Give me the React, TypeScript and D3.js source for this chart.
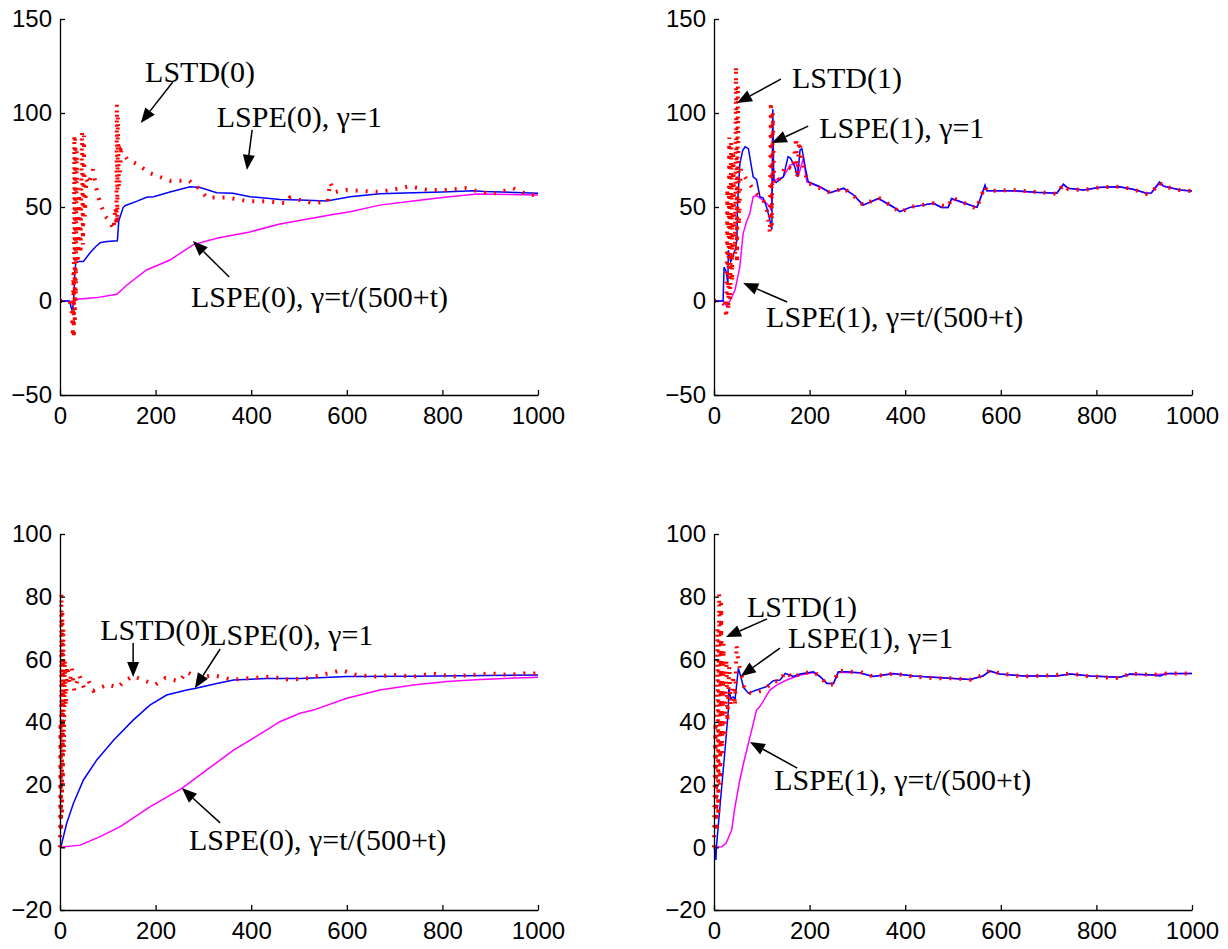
import { useEffect, useRef } from "react";
import * as d3 from "d3";

type Pt = [number, number];

const xTicks = [0, 200, 400, 600, 800, 1000];
const topYTicks = [-50, 0, 50, 100, 150];
const bottomYTicks = [-20, 0, 20, 40, 60, 80, 100];

// top-left: LSTD(0) / LSPE(0)
const lstd0Top: Pt[] = [[0,0],[10,0],[20,0],[24,-3],[27,-19],[28,15],[29,-20],[30,88],[31,-12],[32,86],[33,0],[35,80],[37,20],[40,60],[43,25],[46,90],[48,30],[50,88],[52,45],[55,65],[60,62],[69,70],[76,60],[84,52],[95,45],[105,42],[112,38],[116,50],[118,40],[119,105],[120,42],[121,98],[123,60],[128,80],[142,75],[160,73],[188,68],[230,64],[270,64],[290,60],[307,55],[349,55],[397,53],[432,53],[474,52],[481,55],[530,52],[560,53],[565,63],[575,58],[600,59],[669,58],[732,61],[770,59],[809,59],[849,60],[880,58],[906,57],[948,60],[975,57],[1000,56]];
const lspe0Top: Pt[] = [[0,0],[12,0],[20,0],[25,-5],[28,-2],[31,15],[33,20.4],[40,21],[49,21],[63,25.7],[75,29],[84,31],[98,31.6],[120,32],[123,42.6],[132,49.7],[136,50.7],[160,53],[181,55.2],[196,55.5],[230,58],[272,60.8],[293,60.4],[328,57.6],[362,57.3],[397,55.5],[460,54],[502,53.7],[558,53.2],[607,55.5],[669,57],[739,57.6],[800,58],[864,58.7],[887,58.3],[1000,57.3]];
const lspe0DecayTop: Pt[] = [[0,0],[15,0],[25,-1],[35,0.9],[77,1.8],[119,3.6],[140,8.5],[181,16.5],[230,21.8],[279,30],[330,33.5],[397,36.7],[460,41],[565,45.7],[607,47.5],[669,51],[739,53.2],[800,55],[872,56.9],[1000,56.4]];

// top-right: LSTD(1) / LSPE(1)
const lstd1Top: Pt[] = [[0,0],[15,0],[22,-2],[26,-9],[28,60],[30,-5],[32,87],[34,0],[36,85],[38,10],[40,80],[44,25],[46,125],[48,20],[50,115],[52,40],[56,70],[62,67],[75,62],[90,57],[100,55],[110,50],[117,36],[119,106],[121,40],[123,100],[126,62],[140,66],[150,72],[165,70],[172,87],[174,65],[178,85],[185,75],[195,63],[222,60],[243,57.6],[271,60],[292,56],[312,51],[344,55],[375,50],[389,47],[410,50],[459,52],[490,50],[497,55],[525,52],[550,49],[556,54],[567,61],[571,58.5],[626,59],[675,58],[717,57],[731,62],[741,59.5],[773,59],[808,60.5],[849,60.8],[877,59.4],[905,57],[915,57.5],[932,63],[940,61],[975,59],[1000,58.5]];
const lspe1Top: Pt[] = [[0,0],[19,0],[21,18],[25,16],[29,9.6],[30,27],[35,21],[44,27],[48,32.4],[49,50],[54,73],[60,80],[65,82],[72,81],[82,66],[89,64.5],[96,55.5],[103,54.7],[110,50],[115,45],[121,38],[123,102],[125,64],[130,63],[145,66],[155,76.8],[160,76],[169,71.4],[175,66],[180,80.3],[184,81],[192,69.7],[197,63.5],[222,60.8],[243,57.6],[271,60],[292,56.4],[312,51],[344,54.6],[375,50],[389,47.5],[410,49.8],[459,52],[476,49.8],[490,49.8],[497,54.6],[525,52],[550,49.8],[556,53.7],[567,61.7],[571,58.7],[626,58.7],[675,57.8],[717,57.3],[731,62.2],[741,60],[773,59],[808,60.5],[849,60.8],[877,59.4],[905,57.3],[915,57.5],[932,63.3],[940,61.2],[975,59],[1000,58.5]];
const lspe1DecayTop: Pt[] = [[0,0],[20,0],[27,-3],[35,1],[44,5.8],[54,18.2],[61,36],[68,42],[75,46.6],[82,55.5],[89,56],[100,54],[110,52],[117,50],[120,48],[123,75],[126,64],[145,66],[159,72.3],[173,73.2],[177,67],[187,75.9],[194,63.5],[222,60.5],[243,57.6],[271,59.8],[292,56.4],[312,51],[344,54.4],[375,50],[389,47.5],[410,49.8],[459,52],[476,49.8],[490,49.8],[497,54.3],[525,52],[550,49.8],[556,53.5],[567,61],[571,58.6],[626,58.5],[675,57.7],[717,57.3],[731,61.8],[741,59.9],[773,59],[808,60.4],[849,60.6],[877,59.3],[905,57.3],[915,57.4],[932,62.8],[940,61],[975,59],[1000,58.5]];

// bottom-left: LSTD(0) / LSPE(0)
const lstd0Bottom: Pt[] = [[0,0],[1,40],[2,5],[3,81],[4,10],[5,75],[6,20],[7,70],[8,30],[10,60],[12,45],[15,58],[20,52],[25,57],[30,50],[40,55],[50,51],[60,53],[70,50],[85,51],[100,52],[120,51],[135,53],[153,54.7],[180,53],[200,52],[220,54],[250,53],[265,56],[290,54],[320,55],[360,53.5],[400,54],[440,54.5],[480,53.5],[520,54],[560,55.5],[590,56.5],[620,55],[660,54.5],[700,55],[740,54.5],[780,55.5],[820,54.5],[860,55],[900,55.5],[940,55],[970,55.5],[1000,55.5]];
const lspe0Bottom: Pt[] = [[0,0],[2,0.2],[14,7.7],[28,14],[49,21.5],[77,27.9],[112,34.2],[153,40.6],[188,45.4],[223,48.6],[265,50.2],[282,50.7],[328,52.3],[363,53.4],[432,53.9],[502,53.9],[565,54.3],[600,54.5],[739,54.6],[1000,55]];
const lspe0DecayBottom: Pt[] = [[0,0],[42,0.7],[84,3.4],[126,6.6],[188,12.9],[255,18.8],[307,24.7],[363,31],[432,37.4],[460,40.1],[502,42.8],[530,43.8],[600,47.6],[669,50.2],[739,51.8],[809,52.9],[879,53.6],[1000,54.3]];

// bottom-right: LSTD(1) / LSPE(1)
const lstd1Bottom: Pt[] = [[0,0],[3,40],[5,5],[7,70],[9,10],[11,81],[13,20],[15,78],[17,30],[20,65],[23,35],[26,60],[28,40],[32,58],[35,45],[40,55],[44,45],[47,64.6],[51,59],[56,56],[65,50],[80,49],[100,50],[110,51],[124,53],[138,53],[149,56],[166,54],[180,55.5],[208,56],[222,54.5],[236,52],[250,52],[260,56.5],[278,56],[305,56],[333,54.5],[375,55.5],[417,54.5],[459,54],[501,54],[536,53.5],[563,55],[577,56.5],[598,55.5],[647,54.5],[717,55],[745,55.5],[787,54.5],[849,54],[870,55.5],[919,55],[947,55.5],[1000,55.5]];
const lspe1Bottom: Pt[] = [[0,0],[2,-1],[4,-4],[5,0],[13,14],[23,31],[30,43.8],[31,50.7],[35,47.5],[40,48],[44,47.2],[51,57.1],[56,54.5],[62,51],[72,49.2],[89,50.2],[110,51.3],[124,53.2],[138,53.4],[149,55.5],[166,54.5],[180,55.3],[208,56],[222,54.5],[236,52.3],[250,52.3],[260,56],[278,56],[305,55.7],[333,54.5],[375,55.5],[417,54.7],[459,54.3],[501,53.9],[536,53.6],[563,54.7],[577,56.3],[598,55.3],[647,54.7],[717,54.7],[745,55.3],[787,54.7],[849,54.3],[870,55.3],[919,55],[933,54.7],[947,55.5],[1000,55.5]];
const lspe1DecayBottom: Pt[] = [[0,0],[16,0.2],[25,1.2],[37,5.5],[44,13],[54,21.5],[62,27],[72,33.2],[89,43.8],[96,44.9],[117,50.2],[131,51.8],[152,53.4],[180,55],[208,55.8],[222,54.5],[236,52.4],[250,52.3],[260,55.8],[278,55.9],[305,55.6],[333,54.5],[375,55.4],[417,54.7],[459,54.3],[501,53.9],[536,53.6],[563,54.7],[577,56.2],[598,55.3],[647,54.7],[717,54.7],[745,55.3],[787,54.7],[849,54.3],[870,55.2],[919,55],[947,55.4],[1000,55.5]];

// annotations: label, text anchor (t, v), arrow tail (t, v), arrow tip (t, v)
type Note = { label: string; at: Pt; from: Pt; to: Pt };
const notesTopLeft: Note[] = [
  { label: "LSTD(0)", at: [178, 116.5], from: [236, 116.5], to: [169, 94.7] },
  { label: "LSPE(0), γ=1", at: [328, 92.6], from: [402, 91], to: [391, 69.7] },
  { label: "LSPE(0), γ=t/(500+t)", at: [274, -3.2], from: [354, 12.8], to: [278, 31.9] },
];
const notesTopRight: Note[] = [
  { label: "LSTD(1)", at: [163, 113.3], from: [140, 118], to: [48, 105.3] },
  { label: "LSPE(1), γ=1", at: [220, 86.7], from: [197, 93], to: [121, 84] },
  { label: "LSPE(1), γ=t/(500+t)", at: [109, -13.8], from: [153, -0.5], to: [61, 9.6] },
];
const notesBottomLeft: Note[] = [
  { label: "LSTD(0)", at: [84, 66.2], from: [153, 65.2], to: [153, 54.4] },
  { label: "LSPE(0), γ=1", at: [310, 64.6], from: [335, 63.3], to: [282, 50.8] },
  { label: "LSPE(0), γ=t/(500+t)", at: [270, -0.9], from: [335, 7.8], to: [255, 18.9] },
];
const notesBottomRight: Note[] = [
  { label: "LSTD(1)", at: [69, 73.5], from: [111, 72.9], to: [25, 67.1] },
  { label: "LSPE(1), γ=1", at: [155, 63.6], from: [138, 63.6], to: [56, 54.6] },
  { label: "LSPE(1), γ=t/(500+t)", at: [126, 18.3], from: [174, 25.3], to: [75, 33.6] },
];

const W = 478;
const H = 376;

const panels = [
  { left: 60, top: 19, yDomain: [-50, 150], yTicks: topYTicks, lstd: lstd0Top, lspe: lspe0Top, decay: lspe0DecayTop, notes: notesTopLeft },
  { left: 714, top: 19, yDomain: [-50, 150], yTicks: topYTicks, lstd: lstd1Top, lspe: lspe1Top, decay: lspe1DecayTop, notes: notesTopRight },
  { left: 60, top: 534, yDomain: [-20, 100], yTicks: bottomYTicks, lstd: lstd0Bottom, lspe: lspe0Bottom, decay: lspe0DecayBottom, notes: notesBottomLeft },
  { left: 714, top: 534, yDomain: [-20, 100], yTicks: bottomYTicks, lstd: lstd1Bottom, lspe: lspe1Bottom, decay: lspe1DecayBottom, notes: notesBottomRight },
];

function Arrow({ x1, y1, x2, y2 }) {
  const headLen = 15;
  const headW = 12;
  const dx = x2 - x1, dy = y2 - y1;
  const len = Math.hypot(dx, dy);
  const ux = dx / len, uy = dy / len;
  const bx = x2 - ux * headLen, by = y2 - uy * headLen;
  const px = -uy * headW / 2, py = ux * headW / 2;
  return <g>
    <line x1={x1} y1={y1} x2={bx} y2={by} stroke="black" strokeWidth={1.5}/>
    <polygon points={`${x2},${y2} ${bx + px},${by + py} ${bx - px},${by - py}`} fill="black"/>
  </g>
}

function Panel({ p }) {
  const axisRef = useRef<SVGGElement>(null);
  const x = d3.scaleLinear().domain([0, 1000]).range([0, W]);
  const y = d3.scaleLinear().domain(p.yDomain).range([H, 0]);
  const line = d3.line<Pt>().x(d => x(d[0])).y(d => y(d[1]));
  const fmt = d3.format("d");

  useEffect(() => {
    const g = d3.select(axisRef.current);
    g.selectAll("*").remove();
    const xa = g.append("g")
      .attr("transform", `translate(0,${H})`)
      .call(d3.axisBottom(x).tickValues(xTicks).tickFormat(fmt).tickSizeInner(-5).tickSizeOuter(0).tickPadding(12));
    const ya = g.append("g")
      .call(d3.axisLeft(y).tickValues(p.yTicks).tickFormat(fmt).tickSizeInner(-5).tickSizeOuter(0).tickPadding(8));
    [xa, ya].forEach(a => {
      a.attr("font-size", 24).attr("font-family", "'Liberation Sans', Arial, sans-serif");
      a.selectAll("path, line").attr("stroke", "black").attr("stroke-width", 1.3);
      a.selectAll("text").attr("fill", "black");
    });
  }, []);

  return <g transform={`translate(${p.left},${p.top})`}>
    <path d={line(p.decay)} fill="none" stroke="#ff00ff" strokeWidth={1.5}/>
    <path d={line(p.lspe)} fill="none" stroke="#0000ff" strokeWidth={1.5}/>
    <path d={line(p.lstd)} fill="none" stroke="#ff0000" strokeWidth={4} strokeDasharray="2 8"/>
    <g ref={axisRef}/>
    {p.notes.map((n, i) => <g key={i}>
      <Arrow x1={x(n.from[0])} y1={y(n.from[1])} x2={x(n.to[0])} y2={y(n.to[1])}/>
      <text x={x(n.at[0])} y={y(n.at[1])} fontSize={30}
            fontFamily="'Liberation Serif', 'Times New Roman', serif" fill="black">{n.label}</text>
    </g>)}
  </g>
}

export default function App() {
  return <svg width={1228} height={949} style={{ position: "absolute", left: 0, top: 0, background: "white" }}>
    <rect width={1228} height={949} fill="white"/>
    {panels.map((p, i) => <Panel key={i} p={p}/>)}
  </svg>
}
